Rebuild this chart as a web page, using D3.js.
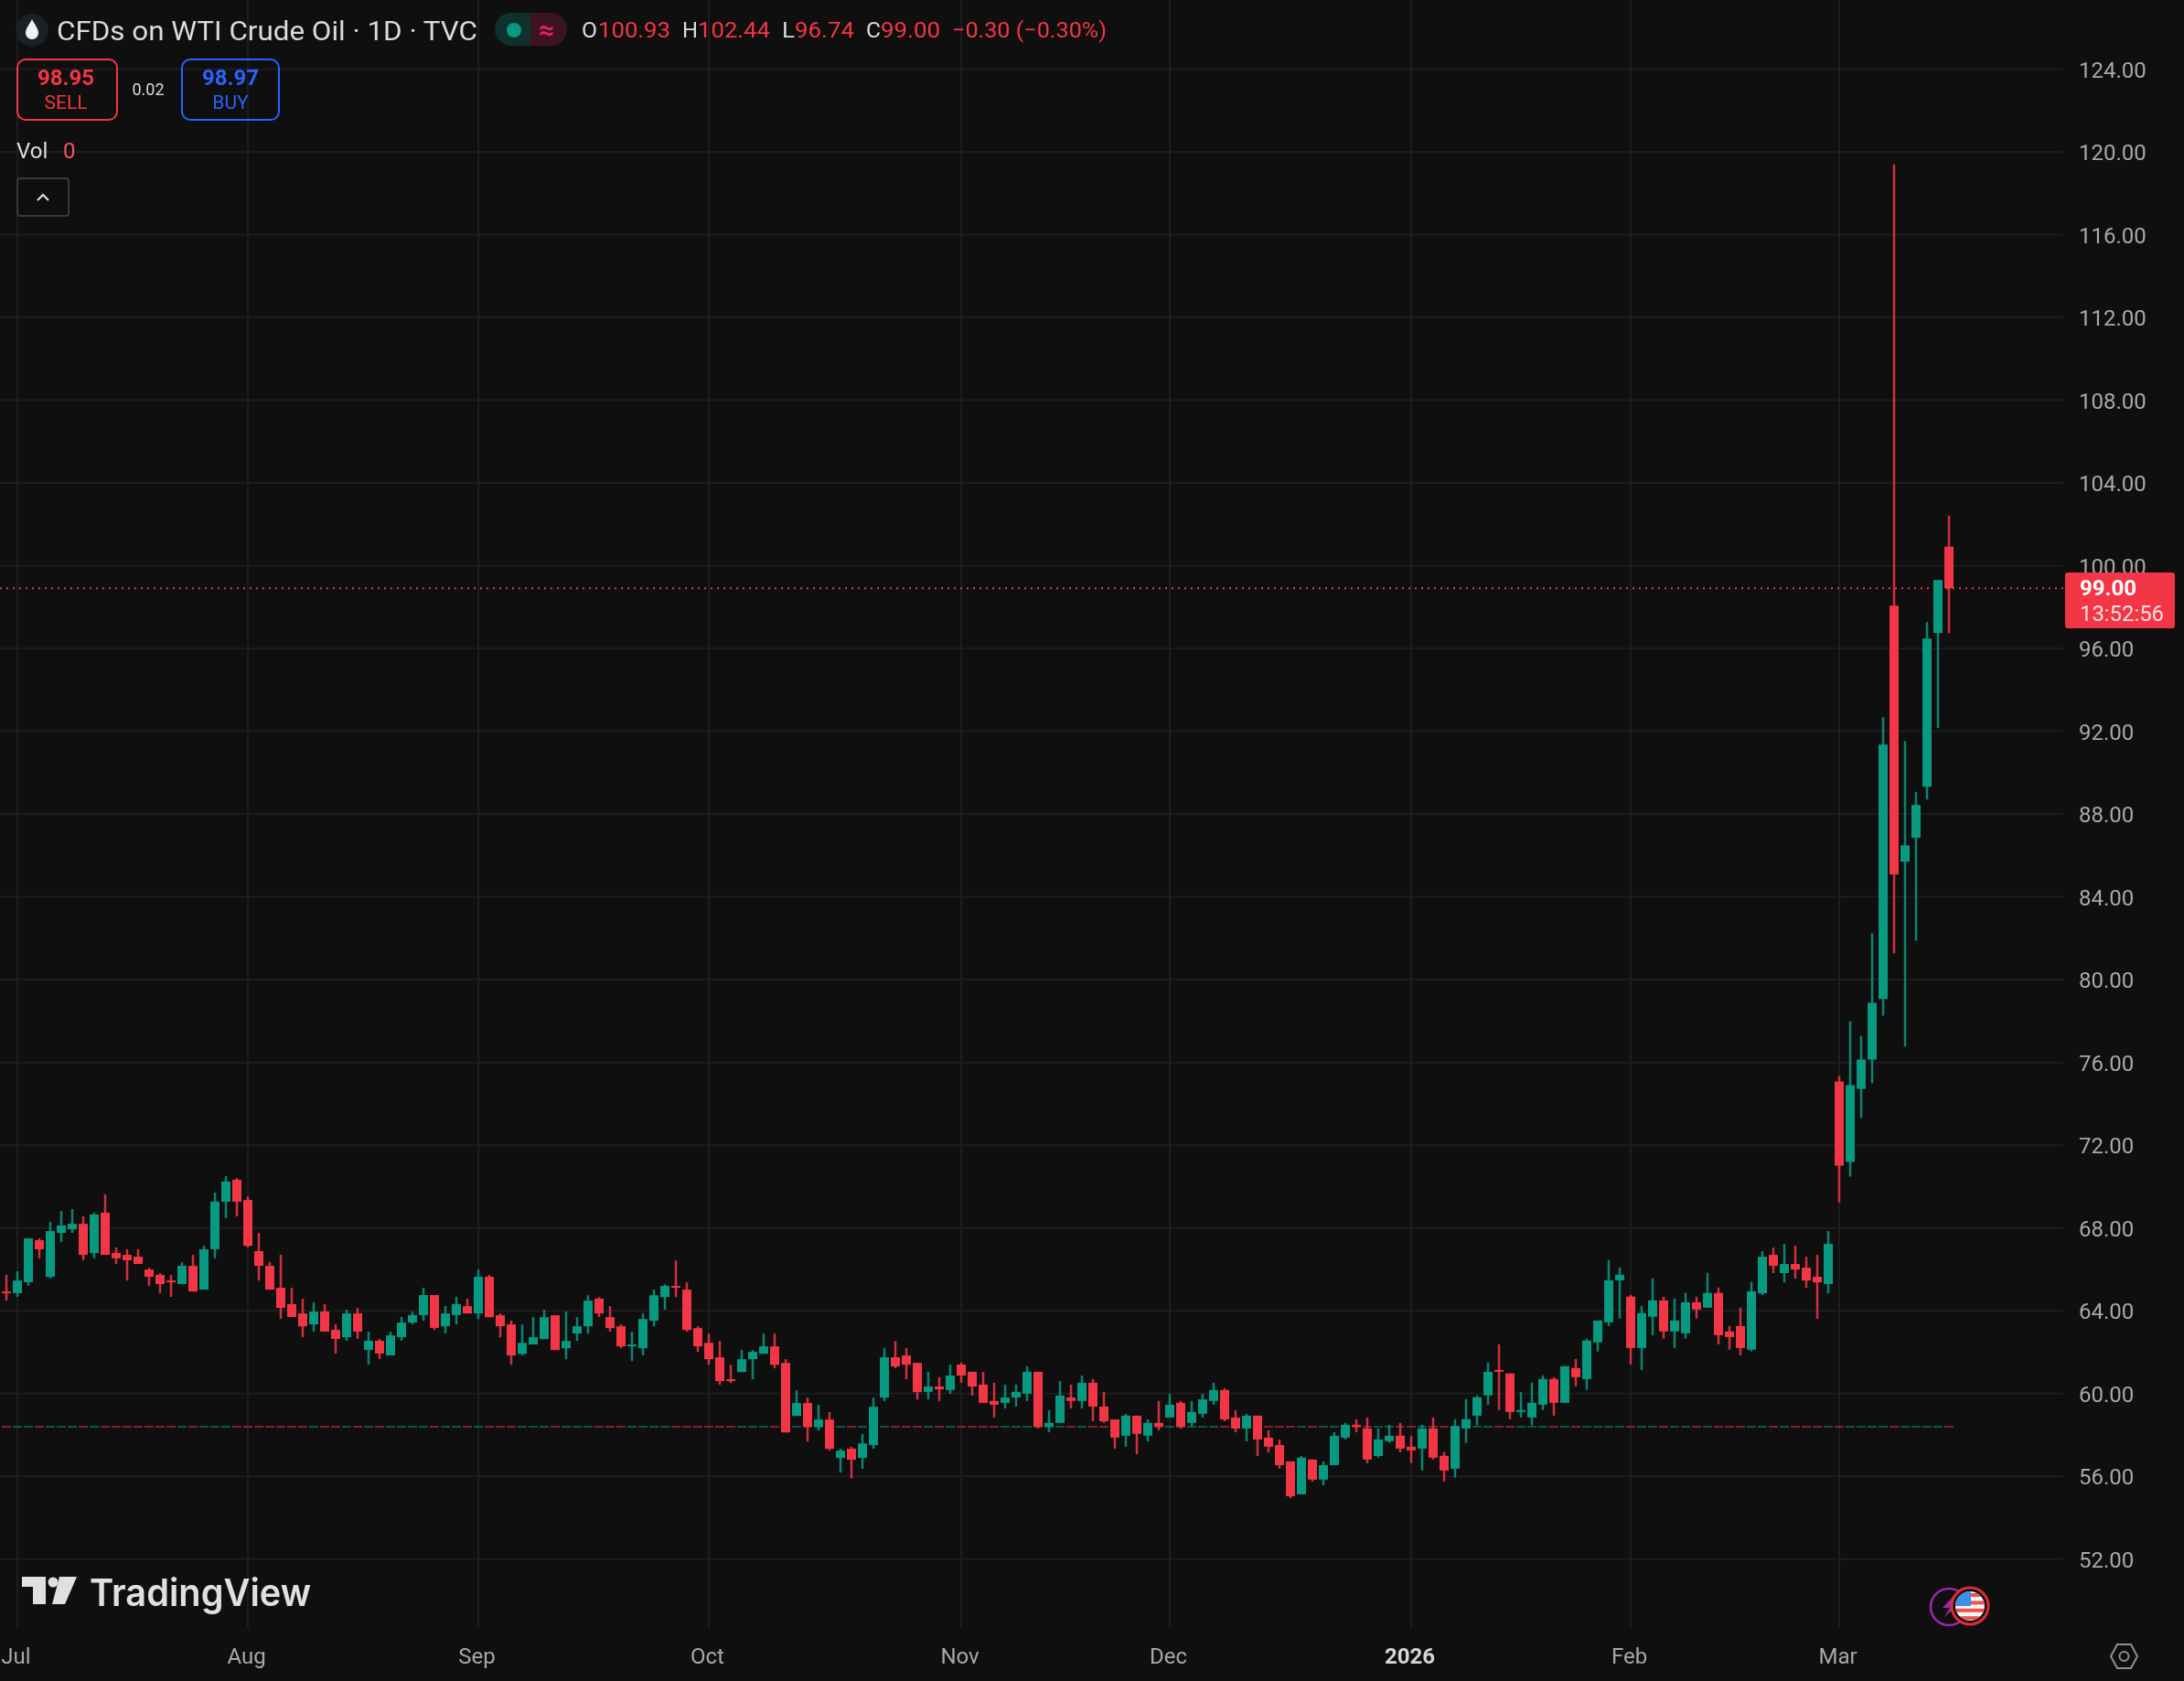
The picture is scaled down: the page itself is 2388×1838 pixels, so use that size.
<!DOCTYPE html>
<html>
<head>
<meta charset="utf-8">
<title>CFDs on WTI Crude Oil</title>
<script src="https://cdn.jsdelivr.net/npm/d3@7"></script>
<style>
  html, body { margin: 0; padding: 0; background: #0f0f0f; }
  svg { display: block; filter: blur(0.5px); }
  text { font-family: Roboto, "Liberation Sans", sans-serif; }
  .domain { display: none; }
  .tick line { display: none; }
</style>
</head>
<body>
<div id="chart"></div>
<script>
// daily candles, index 0 = 30 Jun
const opens = [
  64.93,64.85,65.38,67.41,65.64,67.76,67.94,68.20,66.79,68.74,
  66.79,66.70,66.61,65.99,65.73,65.46,65.29,66.17,65.02,66.97,
  69.27,70.33,69.35,66.88,66.17,65.11,64.32,63.87,63.34,63.96,
  63.08,62.72,63.87,62.11,62.55,61.84,62.72,63.43,63.79,64.76,
  63.25,63.79,64.22,63.87,65.64,63.78,63.34,61.92,62.37,62.63,
  63.78,62.19,62.90,63.25,64.58,63.69,63.25,62.28,62.19,63.52,
  64.66,65.20,65.02,63.16,62.45,61.75,60.69,61.04,61.66,61.92,
  62.28,61.48,58.92,59.54,58.39,58.74,56.89,57.33,56.89,57.51,
  59.80,61.75,61.84,61.48,60.08,60.34,60.17,61.40,61.05,60.43,
  59.64,59.55,59.81,59.99,61.05,58.40,58.58,59.81,59.64,60.52,
  59.37,58.75,57.96,58.93,57.96,58.58,58.84,59.55,58.58,59.02,
  59.64,60.17,58.84,58.31,58.93,57.87,57.51,56.72,55.13,56.81,
  55.84,56.54,57.87,58.49,58.31,56.98,57.70,57.96,57.43,57.34,
  58.31,56.99,56.37,58.31,58.93,59.91,61.14,60.97,59.11,58.84,
  59.46,60.70,59.55,61.23,60.70,62.47,63.44,65.47,64.68,62.20,
  63.71,64.50,63.00,62.91,64.41,64.15,64.86,63.00,63.26,62.12,
  64.84,66.70,65.82,66.26,66.08,65.64,65.29,75.08,71.19,74.72,
  76.14,79.06,98.07,85.70,86.85,89.32,96.75,100.92
];
const closes = [
  64.85,65.46,67.50,66.97,67.85,68.12,68.20,66.70,68.65,66.70,
  66.53,66.44,66.26,65.64,65.29,65.38,66.17,64.93,66.97,69.27,
  70.24,69.27,67.14,66.17,65.02,64.14,63.70,63.25,63.96,62.99,
  62.64,63.87,62.99,62.55,61.93,62.81,63.43,63.79,64.76,63.17,
  63.87,64.32,63.87,65.64,63.69,63.25,61.84,62.45,62.72,63.69,
  62.10,62.54,63.25,64.49,63.87,63.16,62.28,62.37,63.60,64.75,
  65.20,65.11,63.07,62.28,61.66,60.60,60.60,61.66,62.01,62.28,
  61.39,58.12,59.54,58.39,58.74,57.33,57.24,56.80,57.59,59.36,
  61.75,61.31,61.39,60.07,60.34,60.20,60.87,60.87,60.34,59.55,
  59.46,59.81,60.08,61.05,58.40,58.58,59.90,59.64,60.52,59.37,
  58.66,57.87,58.93,58.05,58.58,58.40,59.46,58.40,59.11,59.72,
  60.17,58.75,58.31,58.93,57.78,57.43,56.54,55.04,56.90,55.84,
  56.54,57.96,58.49,58.40,56.81,57.78,57.96,57.34,57.25,58.31,
  56.90,56.28,58.43,58.76,59.82,61.05,61.05,59.11,59.20,59.55,
  60.70,59.55,61.32,60.79,62.56,63.53,65.47,65.74,62.20,63.88,
  64.50,63.00,63.53,64.41,64.06,64.86,62.82,62.73,62.20,64.94,
  66.61,66.17,66.26,65.99,65.46,65.37,67.23,71.01,74.90,76.14,
  78.88,91.36,85.08,86.49,88.44,96.48,99.31,98.91
];
const highs = [
  65.73,65.91,67.50,67.50,68.29,68.82,68.91,68.56,68.74,69.62,
  67.06,66.97,66.97,66.08,65.82,65.73,66.35,66.70,67.14,69.71,
  70.50,70.41,69.53,67.76,66.35,66.70,65.11,64.58,64.40,64.32,
  63.34,64.05,64.14,62.99,62.64,62.99,63.70,63.96,65.11,64.76,
  64.23,64.67,64.58,65.99,65.73,63.87,63.52,63.34,63.69,64.05,
  63.78,63.96,63.69,64.75,64.66,64.22,63.34,62.99,63.87,65.02,
  65.28,66.43,65.37,63.25,62.90,62.54,61.39,62.10,62.10,62.90,
  62.90,61.66,60.16,59.80,59.45,59.10,57.33,57.42,58.04,59.80,
  62.19,62.54,62.19,61.48,61.05,60.79,61.40,61.49,61.05,61.05,
  60.52,60.43,60.43,61.32,61.05,59.19,60.61,60.43,60.87,60.70,
  60.08,58.75,59.02,58.93,58.75,59.64,59.99,59.64,59.64,59.99,
  60.52,60.25,59.19,59.02,58.93,58.22,57.78,56.72,56.98,56.81,
  56.72,58.13,58.58,58.75,58.84,58.31,58.49,58.58,57.96,58.49,
  58.84,57.17,58.76,59.73,59.91,61.50,62.38,60.97,60.08,60.52,
  60.88,60.79,61.32,61.67,62.65,63.53,66.45,66.09,64.77,64.24,
  65.56,64.68,64.59,64.86,64.68,65.83,65.12,63.26,64.15,65.39,
  66.88,67.05,67.23,67.14,66.61,66.70,67.85,75.34,77.99,77.29,
  82.24,92.68,119.39,91.53,89.06,97.28,99.31,102.42
];
const lows = [
  64.49,64.67,65.20,66.53,65.55,67.32,67.76,66.44,66.53,66.70,
  66.26,65.46,66.26,65.20,64.85,64.67,65.29,64.93,65.02,66.53,
  68.47,68.56,67.06,65.46,65.02,63.61,63.70,62.72,62.99,62.99,
  61.93,62.55,62.64,61.40,61.66,61.84,62.55,63.34,63.52,63.08,
  62.90,63.34,63.87,63.60,63.69,62.72,61.39,61.84,62.37,62.63,
  62.10,61.66,62.54,62.90,63.69,62.99,62.19,61.57,61.84,63.25,
  64.05,64.66,62.99,62.01,61.39,60.42,60.51,61.04,60.69,61.92,
  61.22,58.12,58.92,57.68,58.21,57.24,56.18,55.91,56.36,57.33,
  59.63,61.22,60.69,59.71,59.72,59.64,59.99,60.52,59.90,59.55,
  58.84,59.28,59.37,59.64,58.31,58.13,58.58,59.28,59.28,58.66,
  58.58,57.34,57.43,57.07,57.69,58.22,58.84,58.31,58.40,58.84,
  59.46,58.66,58.13,57.69,56.98,57.16,56.37,54.95,55.13,55.75,
  55.57,56.54,57.78,58.13,56.63,56.90,57.61,57.17,56.64,56.28,
  56.81,55.75,55.93,57.61,58.46,59.46,59.20,58.76,58.84,58.46,
  59.20,58.93,59.55,60.35,60.17,62.03,63.26,63.62,61.41,61.14,
  62.82,62.65,62.20,62.65,63.62,64.15,62.38,62.12,61.85,62.03,
  64.76,65.82,65.37,65.55,65.11,63.61,64.84,69.24,70.48,73.31,
  74.99,78.26,81.27,76.76,81.88,88.70,92.15,96.74
];
const priceTicks = [52,56,60,64,68,72,76,80,84,88,92,96,100,104,108,112,116,120,124];
const monthTicks = [1,22,43,64,87,106,128,148,167];
const monthLabels = ['Jul','Aug','Sep','Oct','Nov','Dec','2026','Feb','Mar'];
const lastPrice = 98.91;

const width = 2388, height = 1838;
const plotRight = 2256, plotBottom = 1780;
const green = '#089981', red = '#f23645', grid = '#1d1d1d', axisText = '#a8a8a8';

const candles = d3.range(opens.length).map(i => ({
  i, open: opens[i], close: closes[i], high: highs[i], low: lows[i], volume: 0
}));
const up = d => d.close >= d.open;

const x = d3.scaleLinear().domain([0, 177]).range([7, 2131]);
const y = d3.scaleLinear().domain([52, 120]).range([1704.7, 166]);
// volume sits on its own scale, every bar is zero here
const yVol = d3.scaleLinear().domain([0, 1]).range([1560, 1400]);
const bodyW = 10;

const svg = d3.select('#chart').append('svg')
    .attr('width', width).attr('height', height)
    .attr('viewBox', `0 0 ${width} ${height}`);
svg.append('rect').attr('width', width).attr('height', height).attr('fill', '#0f0f0f');

// grid
svg.append('g').selectAll('line').data(priceTicks).enter().append('line')
    .attr('x1', 0).attr('x2', plotRight)
    .attr('y1', d => y(d)).attr('y2', d => y(d))
    .attr('stroke', grid).attr('stroke-width', 2);
svg.append('g').selectAll('line').data(monthTicks).enter().append('line')
    .attr('x1', d => x(d)).attr('x2', d => x(d))
    .attr('y1', 0).attr('y2', plotBottom)
    .attr('stroke', grid).attr('stroke-width', 2);

// zero volume bars
svg.append('g').selectAll('rect').data(candles).enter().append('rect')
    .attr('x', d => x(d.i) - bodyW/2).attr('width', bodyW)
    .attr('y', d => yVol(d.volume) - 1).attr('height', 2)
    .attr('fill', d => up(d) ? green : red).attr('opacity', 0.5);

// last price line
svg.append('line')
    .attr('x1', 0).attr('x2', plotRight)
    .attr('y1', y(lastPrice)).attr('y2', y(lastPrice))
    .attr('stroke', red).attr('stroke-width', 2).attr('stroke-dasharray', '2 5');

// candles
const cg = svg.append('g').selectAll('g').data(candles).enter().append('g');
cg.append('rect')
    .attr('x', d => x(d.i) - 1.25).attr('width', 2.5)
    .attr('y', d => y(d.high)).attr('height', d => y(d.low) - y(d.high))
    .attr('fill', d => up(d) ? green : red).attr('opacity', 0.85);
cg.append('rect')
    .attr('x', d => x(d.i) - bodyW/2).attr('width', bodyW)
    .attr('y', d => y(Math.max(d.open, d.close)))
    .attr('height', d => Math.max(2, Math.abs(y(d.open) - y(d.close))))
    .attr('fill', d => up(d) ? green : red);

// axes
const yAxis = d3.axisRight(y).tickValues(priceTicks).tickFormat(d3.format('.2f')).tickSize(0).tickPadding(0);
svg.append('g').attr('transform', `translate(2273,1)`).call(yAxis)
  .selectAll('text')
    .attr('fill', axisText).attr('font-size', 24).attr('text-anchor', 'start');

const xAxis = d3.axisBottom(x).tickValues(monthTicks)
    .tickFormat((d, i) => monthLabels[i]).tickSize(0).tickPadding(0);
svg.append('g').attr('transform', `translate(-2,1802)`).call(xAxis)
  .selectAll('text')
    .attr('fill', (d, i) => monthLabels[i] === '2026' ? '#d6d6d6' : axisText)
    .attr('font-weight', (d, i) => monthLabels[i] === '2026' ? 700 : 400)
    .attr('font-size', 24);

// price tag
svg.append('rect').attr('x', plotRight + 2).attr('y', 626).attr('width', 120).attr('height', 61)
    .attr('rx', 3).attr('fill', red);
label(2274, 643, '99.00', { fill: '#ffffff', size: 24, weight: 700 });
label(2274, 671, '13:52:56', { fill: '#ffdfe2', size: 24, fit: 92 });

// header
function label(px, py, text, o = {}) {
  const t = svg.append('text').attr('x', px).attr('y', py).text(text)
      .attr('dominant-baseline', 'central')
      .attr('text-anchor', o.anchor || 'start')
      .attr('font-size', o.size || 24)
      .attr('font-weight', o.weight || 400)
      .attr('fill', o.fill || '#dbdbdb');
  if (o.fit) t.attr('textLength', o.fit).attr('lengthAdjust', 'spacingAndGlyphs');
  return t;
}

svg.append('circle').attr('cx', 35).attr('cy', 33).attr('r', 18).attr('fill', '#1a2025');
svg.append('path').attr('transform', 'translate(35,33)')
    .attr('d', 'M0,-12 C3,-6 7,-2 7,3 A7,7 0 0 1 -7,3 C-7,-2 -3,-6 0,-12 Z').attr('fill', '#f2f2f2');
label(62, 33, 'CFDs on WTI Crude Oil · 1D · TVC', { size: 30, fit: 460 });

svg.append('path').attr('d', 'M580,14 H559 A18,18 0 0 0 559,50 H580 Z').attr('fill', '#10302b');
svg.append('path').attr('d', 'M580,14 H602 A18,18 0 0 1 602,50 H580 Z').attr('fill', '#3c1420');
svg.append('circle').attr('cx', 562).attr('cy', 33).attr('r', 8).attr('fill', green);
label(598, 32, '≈', { size: 30, anchor: 'middle', fill: '#e91e63', weight: 700 });

const ohlc = [
  [636, 'O', '#dbdbdb', 17], [654, '100.93', red, 79], [746, 'H', '#dbdbdb', 17], [763, '102.44', red, 79],
  [855, 'L', '#dbdbdb', 14], [869, '96.74', red, 65], [947, 'C', '#dbdbdb', 16], [963, '99.00', red, 65],
  [1041, '−0.30 (−0.30%)', red, 169]
];
ohlc.forEach(([px, s, c, w]) => label(px, 33, s, { fill: c, size: 24, fit: w }));

// sell / buy
svg.append('rect').attr('x', 19).attr('y', 65).attr('width', 109).attr('height', 66).attr('rx', 9)
    .attr('fill', 'none').attr('stroke', red).attr('stroke-width', 2);
label(72, 85, '98.95', { fill: red, size: 24, weight: 700, anchor: 'middle' });
label(72, 112, 'SELL', { fill: red, size: 21, anchor: 'middle' });
label(162, 97, '0.02', { size: 18, anchor: 'middle' });
svg.append('rect').attr('x', 199).attr('y', 65).attr('width', 106).attr('height', 66).attr('rx', 9)
    .attr('fill', 'none').attr('stroke', '#2962ff').attr('stroke-width', 2);
label(252, 85, '98.97', { fill: '#2962ff', size: 24, weight: 700, anchor: 'middle' });
label(252, 112, 'BUY', { fill: '#2962ff', size: 21, anchor: 'middle' });

label(18, 165, 'Vol', { size: 24 });
label(69, 165, '0', { size: 24, fill: '#f7525f' });

svg.append('rect').attr('x', 19).attr('y', 195).attr('width', 56).attr('height', 41).attr('rx', 3)
    .attr('fill', 'none').attr('stroke', '#3a3a3a').attr('stroke-width', 2);
svg.append('path').attr('d', 'M41,219 L47,213 L53,219').attr('fill', 'none')
    .attr('stroke', '#e6e6e6').attr('stroke-width', 2);

// logo
const logo = svg.append('g').attr('fill', '#e0e0e0');
logo.append('path').attr('d', 'M24,1724 H50 V1754 H36 V1735 H24 Z');
logo.append('circle').attr('cx', 58).attr('cy', 1730).attr('r', 5.5);
logo.append('path').attr('d', 'M65,1724 H84 L71,1754 H57 Z');
label(98, 1741, 'TradingView', { size: 41, weight: 600, fill: '#e0e0e0', fit: 242 }).style('font-family', 'Inter');

// session + event badges
svg.append('circle').attr('cx', 2131).attr('cy', 1757).attr('r', 20).attr('fill', '#0f0f0f')
    .attr('stroke', '#9c27b0').attr('stroke-width', 2.5);
svg.append('path').attr('d', 'M2137,1744 L2124,1758 L2132,1758 L2126,1768 L2142,1754 L2134,1754 Z').attr('fill', '#9c27b0');
svg.append('circle').attr('cx', 2154).attr('cy', 1756).attr('r', 20).attr('fill', '#0f0f0f')
    .attr('stroke', '#e02b36').attr('stroke-width', 3);
const clip = svg.append('clipPath').attr('id', 'flag');
clip.append('circle').attr('cx', 2154).attr('cy', 1756).attr('r', 16);
const flag = svg.append('g').attr('clip-path', 'url(#flag)');
flag.append('rect').attr('x', 2138).attr('y', 1740).attr('width', 32).attr('height', 32).attr('fill', '#f4f4f4');
[0, 2, 4, 6].forEach(k => flag.append('rect').attr('x', 2138).attr('y', 1742 + k*4.2)
    .attr('width', 32).attr('height', 4).attr('fill', '#f0504f'));
flag.append('rect').attr('x', 2138).attr('y', 1740).attr('width', 17).attr('height', 16).attr('fill', '#3d8fe8');

// settings
svg.append('path').attr('d', 'M2308,1811 L2315,1798 L2330,1798 L2337,1811 L2330,1824 L2315,1824 Z')
    .attr('fill', 'none').attr('stroke', '#8f8f8f').attr('stroke-width', 2);
svg.append('circle').attr('cx', 2322.5).attr('cy', 1811).attr('r', 5)
    .attr('fill', 'none').attr('stroke', '#8f8f8f').attr('stroke-width', 2);
</script>
</body>
</html>
